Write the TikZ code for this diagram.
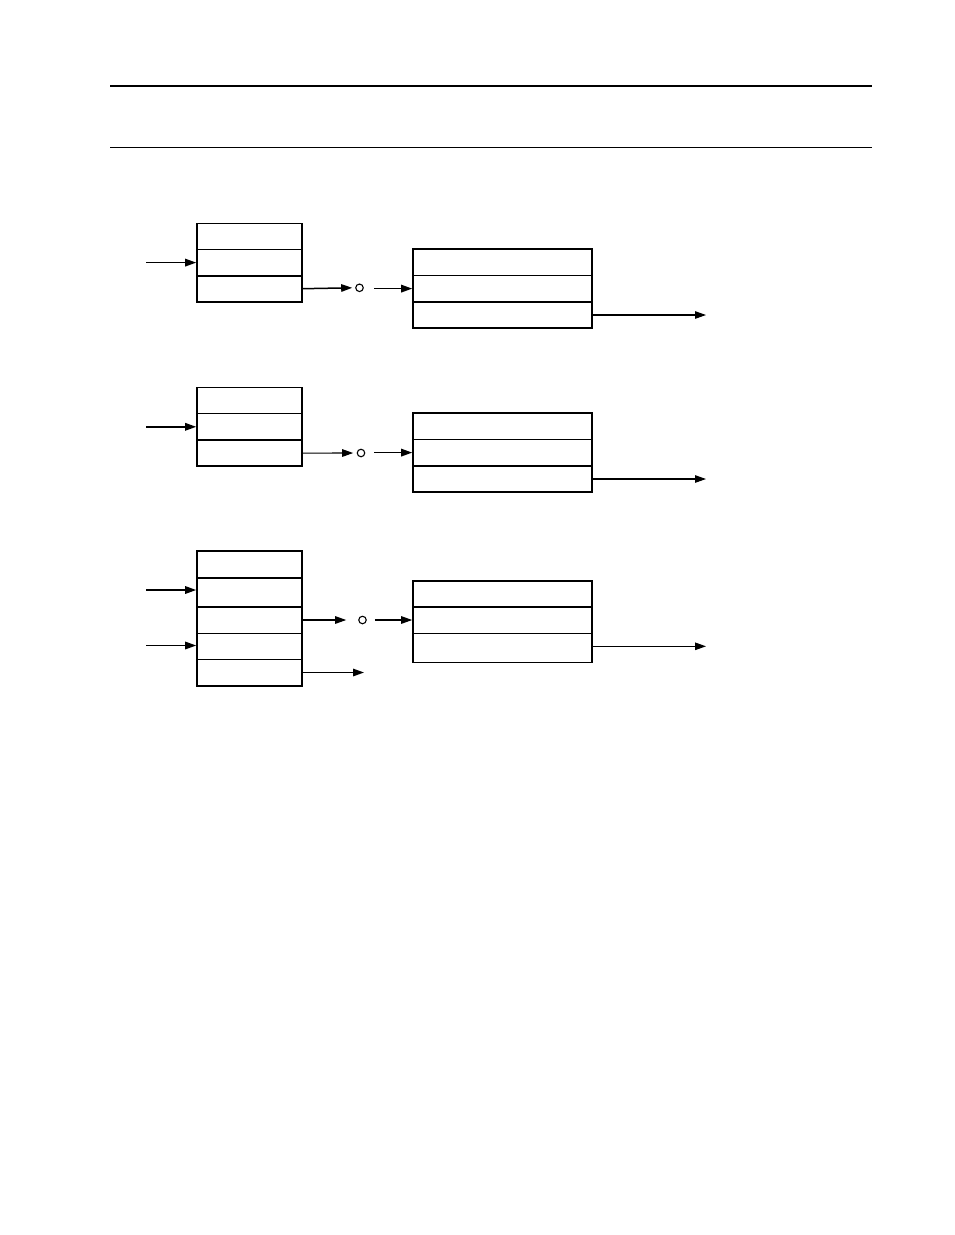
\documentclass[tikz,border=0pt]{standalone}
\usetikzlibrary{arrows.meta}
\begin{document}
\begin{tikzpicture}[x=1pt,y=-1pt,
  cell/.style={draw,line width=1.6pt,rectangle,inner sep=0pt,minimum width=105pt},
  rcell/.style={draw,line width=1.6pt,rectangle,inner sep=0pt,minimum width=179pt},
  arr/.style={line width=1.5pt,-{Triangle[length=11pt,width=7.5pt]}},
  tarr/.style={line width=1.1pt,-{Triangle[length=11pt,width=7.5pt]}},
  junc/.style={draw,circle,line width=1.1pt,inner sep=0pt,minimum size=7.5pt}]
\useasboundingbox (0,0) rectangle (954,1235);
\draw[line width=2.2pt] (110,86) -- (872,86);
\draw[line width=1.2pt] (110,147.5) -- (872,147.5);

% ---- block 1
\node[cell,minimum height=26.3pt] (a1) at (249.5,236.5) {};
\node[cell,minimum height=26.3pt] (a2) at (249.5,262.6) {};
\node[cell,minimum height=26.3pt] (a3) at (249.5,288.7) {};
\node[rcell,minimum height=26.3pt] (b1) at (502.5,262.3) {};
\node[rcell,minimum height=26.3pt] (b2) at (502.5,288.6) {};
\node[rcell,minimum height=26.3pt] (b3) at (502.5,315) {};
\node[junc] (c1) at (359.5,287.8) {};
\coordinate (i1) at (146,262.6);
\coordinate (o1) at (706,315);
\draw[arr] (i1) -- (a2.west);
\draw[arr] (a3.east) -- ([xshift=-3pt]c1.west);
\draw[arr] ([xshift=10.5pt]c1.east |- b2.west) -- (b2.west);
\draw[tarr] (b3.east) -- (o1);

% ---- block 2
\node[cell,minimum height=26.3pt] (d1) at (249.5,400.5) {};
\node[cell,minimum height=26.3pt] (d2) at (249.5,426.8) {};
\node[cell,minimum height=26.3pt] (d3) at (249.5,453.1) {};
\node[rcell,minimum height=26.3pt] (e1) at (502.5,426.3) {};
\node[rcell,minimum height=26.3pt] (e2) at (502.5,452.6) {};
\node[rcell,minimum height=26.3pt] (e3) at (502.5,479) {};
\node[junc] (c2) at (361,453) {};
\coordinate (i2) at (146,426.8);
\coordinate (o2) at (706,479);
\draw[arr] (i2) -- (d2.west);
\draw[tarr] (d3.east) -- ([xshift=-3.5pt]c2.west);
\draw[arr] ([xshift=9pt]c2.east |- e2.west) -- (e2.west);
\draw[tarr] (e3.east) -- (o2);

% ---- block 3
\node[cell,minimum height=26.6pt] (f1) at (249.5,564.5) {};
\node[cell,minimum height=29pt] (f2) at (249.5,592.2) {};
\node[cell,minimum height=26.6pt] (f3) at (249.5,620) {};
\node[cell,minimum height=26pt] (f4) at (249.5,646.3) {};
\node[cell,minimum height=26.4pt] (f5) at (249.5,672.5) {};
\node[rcell,minimum height=25.7pt] (g1) at (502.5,593.8) {};
\node[rcell,minimum height=26.6pt] (g2) at (502.5,620) {};
\node[rcell,minimum height=29pt] (g3) at (502.5,647.8) {};
\node[junc] (c3) at (362.5,620) {};
\coordinate (i3) at (146,590);
\coordinate (i4) at (146,645.5);
\coordinate (o3) at (706,646.3);
\coordinate (o4) at (364,672.5);
\draw[arr] (i3) -- (f2.west |- i3);
\draw[arr] (i4) -- (f4.west |- i4);
\draw[tarr] (f3.east) -- ([xshift=-12pt]c3.west);
\draw[tarr] ([xshift=8pt]c3.east) -- (g2.west);
\draw[arr] (f5.east) -- (o4);
\draw[tarr] (g3.east |- o3) -- (o3);
\end{tikzpicture}
\end{document}
